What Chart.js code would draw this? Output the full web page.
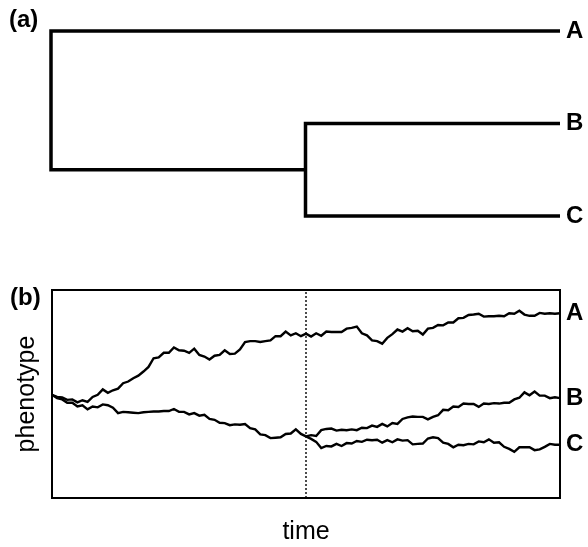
<!DOCTYPE html>
<html><head><meta charset="utf-8">
<script src="https://cdn.jsdelivr.net/npm/chart.js@4/dist/chart.umd.min.js"></script>
<style>
html,body{margin:0;padding:0;background:#fff;}
#wrap{position:relative;width:588px;height:547px;overflow:hidden;background:#fff;}
.panel{position:absolute;left:0;}
.lab{position:absolute;font:bold 24px "Liberation Sans",Arial,sans-serif;line-height:1;color:#000;}
</style></head>
<body>
<div id="wrap">
<div class="panel" style="top:0"><canvas id="tree" width="588" height="240"></canvas></div>
<div class="panel" style="top:240px"><canvas id="traits" width="588" height="307"></canvas></div>
<div class="lab" style="left:9px;top:7px">(a)</div>
<div class="lab" style="left:10px;top:285px">(b)</div>
</div>
<script>
// ---- data ----
const taxa = ['A', 'B', 'C'];
const tipRank = [2, 1, 0];          // vertical order of the tips in the tree
const rootTime = 0;
const splitTime = 50;               // divergence of B and C
const tipTime = 100;

const time = [0,1,2,3,4,5,6,7,8,9,10,11,12,13,14,15,16,17,18,19,20,21,22,23,24,25,26,27,28,29,30,
  31,32,33,34,35,36,37,38,39,40,41,42,43,44,45,46,47,48,49,50,51,52,53,54,55,56,57,58,59,60,
  61,62,63,64,65,66,67,68,69,70,71,72,73,74,75,76,77,78,79,80,81,82,83,84,85,86,87,88,89,90,
  91,92,93,94,95,96,97,98,99,100];

const phenoA = [4.96,4.86,4.84,4.72,4.74,4.60,4.70,4.62,4.86,4.96,5.22,5.06,5.18,5.26,5.52,5.60,5.76,5.88,6.08,6.30,
  6.72,6.76,6.98,6.98,7.24,7.10,7.08,6.98,7.18,6.88,6.80,6.66,6.84,6.88,7.10,6.92,6.94,7.14,7.50,7.54,
  7.54,7.50,7.54,7.58,7.78,7.78,8.00,7.82,7.92,7.78,7.90,7.76,7.92,7.80,8.00,7.98,7.98,7.98,8.14,8.18,
  8.24,7.92,7.82,7.58,7.54,7.42,7.70,7.88,8.10,8.00,8.16,8.02,8.04,7.86,8.14,8.18,8.32,8.30,8.44,8.44,
  8.64,8.66,8.80,8.82,8.86,8.72,8.74,8.74,8.76,8.74,8.88,8.86,9.00,8.82,8.76,8.76,8.90,8.86,8.88,8.86,8.88];

const phenoBC = [4.96,4.80,4.74,4.58,4.58,4.40,4.46,4.26,4.40,4.36,4.50,4.46,4.34,4.08,4.14,4.12,4.10,4.08,4.12,4.14,
  4.16,4.16,4.18,4.18,4.28,4.14,4.14,4.02,4.08,3.96,4.00,3.80,3.76,3.62,3.60,3.50,3.54,3.52,3.56,3.36,
  3.30,3.06,3.02,2.88,2.90,2.92,3.08,3.10,3.30,3.08,2.96];

const phenoB = [2.96,3.02,2.98,3.26,3.32,3.34,3.24,3.28,3.26,3.30,3.26,3.38,3.36,3.48,3.42,3.56,3.44,3.60,3.56,3.80,
  3.88,3.92,3.90,3.90,3.78,3.90,3.98,4.24,4.22,4.40,4.38,4.54,4.52,4.52,4.38,4.54,4.52,4.56,4.54,4.58,
  4.58,4.74,4.82,5.08,4.94,5.12,4.92,4.92,4.80,4.84,4.80];

const phenoC = [2.96,2.84,2.70,2.40,2.50,2.48,2.60,2.50,2.64,2.62,2.74,2.70,2.80,2.78,2.80,2.66,2.78,2.68,2.82,2.76,
  2.78,2.58,2.60,2.62,2.86,2.92,2.88,2.66,2.60,2.44,2.56,2.54,2.60,2.58,2.72,2.68,2.82,2.66,2.68,2.46,
  2.36,2.22,2.44,2.44,2.44,2.30,2.34,2.46,2.60,2.56,2.56];

const phenoMin = 0, phenoMax = 10;

// ---- helpers ----
const FONT = '"Liberation Sans", Arial, Helvetica, sans-serif';
const pts = (xs, ys) => ys.map((v, i) => ({x: xs[i], y: v}));
const stemTimes = time.filter(t => t <= splitTime);
const branchTimes = time.filter(t => t >= splitTime);
const lineStyle = (w) => ({borderColor: '#000', backgroundColor: '#000', borderWidth: w, pointRadius: 0,
  pointHoverRadius: 0, showLine: true, fill: false, tension: 0, clip: false});

// ---- (a) tree ----
const rankA = tipRank[0], rankB = tipRank[1], rankC = tipRank[2];
const nodeBC = (rankB + rankC) / 2;
new Chart(document.getElementById('tree'), {
  type: 'scatter',
  data: {datasets: [
    Object.assign({data: [{x: tipTime, y: rankA}, {x: rootTime, y: rankA}, {x: rootTime, y: nodeBC}, {x: splitTime, y: nodeBC}],
      borderJoinStyle: 'miter', borderCapStyle: 'butt'}, lineStyle(3.5)),
    Object.assign({data: [{x: tipTime, y: rankB}, {x: splitTime, y: rankB}, {x: splitTime, y: rankC}, {x: tipTime, y: rankC}],
      borderJoinStyle: 'miter', borderCapStyle: 'butt'}, lineStyle(3.5))
  ]},
  options: {
    responsive: false, animation: false,
    layout: {padding: {left: 51, top: 31, bottom: 24, right: 0}},
    plugins: {legend: {display: false}, tooltip: {enabled: false}, title: {display: false}},
    scales: {
      x: {type: 'linear', min: rootTime, max: tipTime, display: false},
      y: {type: 'linear', position: 'right', min: 0, max: 2,
        grid: {display: false, drawTicks: false}, border: {display: false},
        afterBuildTicks: s => { s.ticks = tipRank.map(v => ({value: v})); },
        afterFit: s => { s.width = 28; },
        ticks: {autoSkip: false, padding: 6, color: '#000', font: {family: FONT, size: 24, weight: 'bold'},
          callback: (v, i) => taxa[i]}}
    }
  }
});

// ---- (b) traits ----
const ends = [phenoA[phenoA.length - 1], phenoB[phenoB.length - 1], phenoC[phenoC.length - 1]];
const frame = {display: true, color: '#000', width: 2};
new Chart(document.getElementById('traits'), {
  type: 'scatter',
  data: {datasets: [
    Object.assign({data: pts(time, phenoA)}, lineStyle(2.4)),
    Object.assign({data: pts(stemTimes, phenoBC)}, lineStyle(2.4)),
    Object.assign({data: pts(branchTimes, phenoB)}, lineStyle(2.4)),
    Object.assign({data: pts(branchTimes, phenoC)}, lineStyle(2.4)),
    Object.assign({data: [{x: splitTime, y: phenoMin}, {x: splitTime, y: phenoMax}], borderDash: [2, 2]}, lineStyle(1.4))
  ]},
  options: {
    responsive: false, animation: false,
    layout: {padding: 0},
    plugins: {legend: {display: false}, tooltip: {enabled: false}},
    scales: {
      x: {type: 'linear', position: 'bottom', min: rootTime, max: tipTime,
        ticks: {display: false}, grid: {display: false, drawTicks: false}, border: frame,
        title: {display: true, text: 'time', color: '#000', font: {family: FONT, size: 25}, padding: {top: 0, bottom: 0}},
        afterFit: s => { s.height = 49; }},
      xTop: {type: 'linear', position: 'top', min: rootTime, max: tipTime,
        ticks: {display: false}, grid: {display: false, drawTicks: false}, border: frame,
        afterFit: s => { s.height = 50; }},
      y: {type: 'linear', position: 'left', min: phenoMin, max: phenoMax,
        ticks: {display: false}, grid: {display: false, drawTicks: false}, border: frame,
        title: {display: true, text: 'phenotype', color: '#000', font: {family: FONT, size: 25}, padding: {top: 12, bottom: 0}},
        afterFit: s => { s.width = 52; }},
      y2: {type: 'linear', position: 'right', min: phenoMin, max: phenoMax,
        grid: {display: false, drawTicks: false}, border: frame,
        afterBuildTicks: s => { s.ticks = ends.map(v => ({value: v})); },
        afterFit: s => { s.width = 28; },
        ticks: {autoSkip: false, padding: 6, color: '#000', font: {family: FONT, size: 24, weight: 'bold'},
          callback: (v, i) => taxa[i]}}
    }
  }
});
</script>
</body></html>
